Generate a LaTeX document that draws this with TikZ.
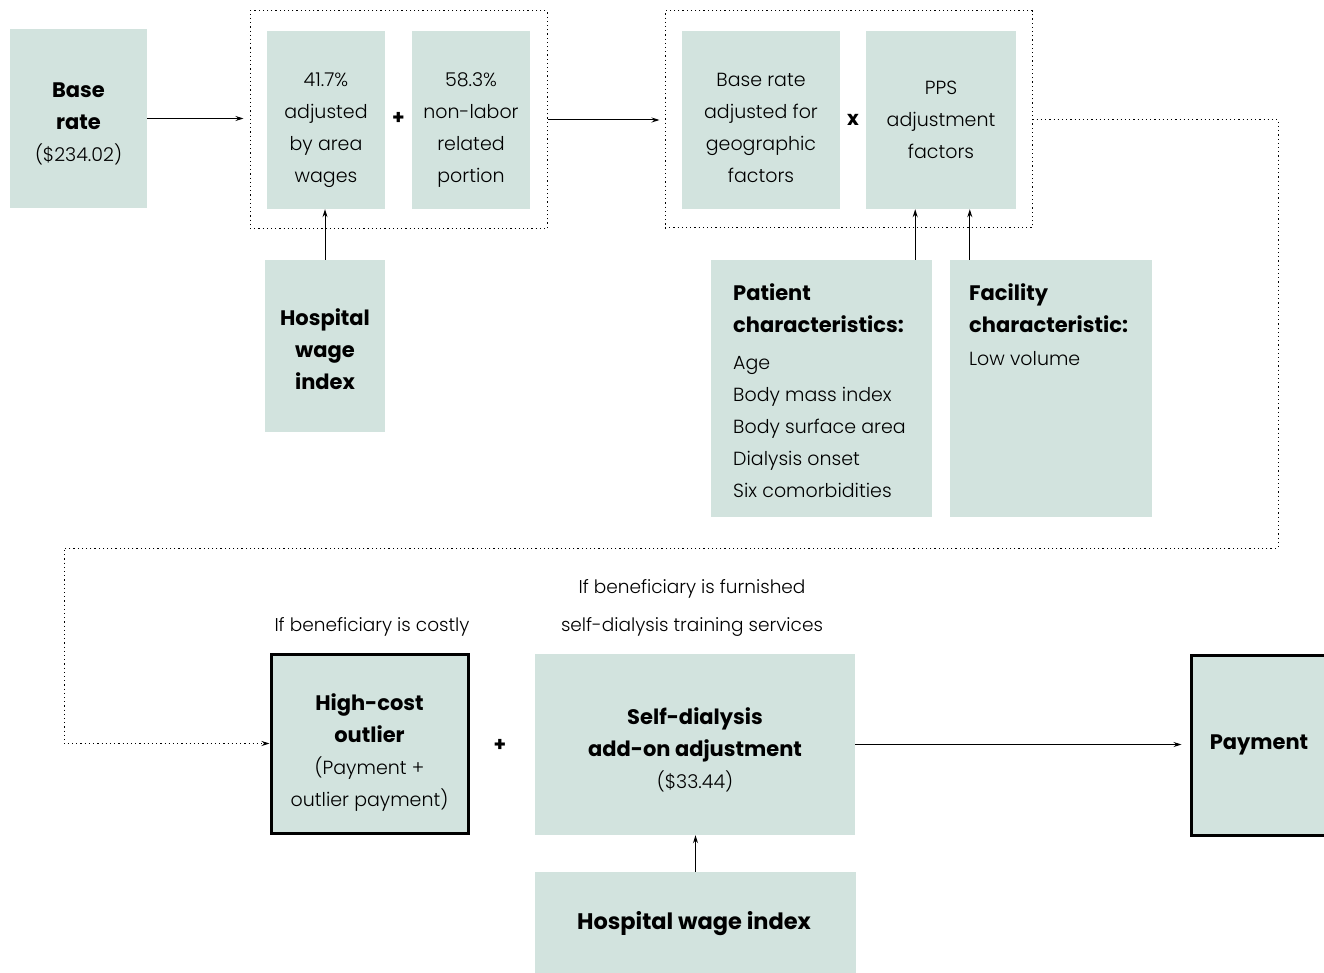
\documentclass[tikz,border=0pt]{standalone}
\usepackage{fontspec}
\setmainfont{Poppins}[UprightFont={* Light},BoldFont={* Bold}]
\usetikzlibrary{arrows.meta}
\definecolor{boxfill}{RGB}{210,227,222}
\newcommand\hb[1]{{\fontsize{21}{32}\selectfont\bfseries #1}}
\tikzset{
  box/.style={fill=boxfill, draw=none, inner sep=0pt, align=center, font=\fontsize{19}{32}\selectfont},
  thickbox/.style={box, draw=black, line width=3pt},
  dotline/.style={dash pattern=on 1.2pt off 3pt, line width=1pt},
  dotbox/.style={draw=black, dotline, inner sep=0pt},
  arr/.style={-{Stealth[length=8pt,width=5pt]}, line width=1pt},
  txt/.style={inner sep=0pt, align=center, font=\fontsize{19}{32}\selectfont},
  lbl/.style={inner sep=0pt, align=center, font=\fontsize{18.5}{38}\selectfont},
  op/.style={inner sep=0pt, font=\bfseries\fontsize{20}{24}\selectfont},
}
\begin{document}
\begin{tikzpicture}[x=1pt,y=-1pt]
\useasboundingbox (0,0) rectangle (1324,973);
% top row
\node[box, minimum width=137pt, minimum height=179pt] (base) at (78.5,118.5) {};
\node[txt] (baset) at ([yshift=-5pt]base.center) {\hb{Base}\\\hb{rate}\\(\$234.02)};
\node[dotbox, minimum width=297pt, minimum height=218pt] (grp1) at (398.5,120) {};
\node[box, minimum width=118pt, minimum height=178pt] (lab) at (326,120) {};
\node[txt] (labt) at ([yshift=-10pt]lab.center) {41.7\%\\adjusted\\by area\\wages};
\node[box, minimum width=118pt, minimum height=178pt] (nonlab) at (471,120) {};
\node[txt] (nonlabt) at ([yshift=-10pt]nonlab.center) {58.3\%\\non-labor\\related\\portion};
\node[op] (plus1) at (398.5,118) {+};
\node[dotbox, minimum width=367pt, minimum height=217pt] (grp2) at (848.5,119.5) {};
\node[box, minimum width=158pt, minimum height=178pt] (geo) at (761,120) {};
\node[txt] (geot) at ([yshift=-8pt]geo.center) {Base rate\\adjusted for\\geographic\\factors};
\node[box, minimum width=150pt, minimum height=178pt] (pps) at (941,120) {PPS\\adjustment\\factors};
\node[op] (times) at (853,120) {x};
% inputs
\node[box, minimum width=120pt, minimum height=172pt] (hwi) at (325,346) {};
\node[txt] (hwit) at ([yshift=-3pt]hwi.center) {\hb{Hospital}\\\hb{wage}\\\hb{index}};
\node[box, minimum width=221pt, minimum height=257pt] (pat) at (821.5,388.5) {};
\node[txt, anchor=north west, align=left] (pattxt) at (733,283) {\hb{Patient}\\\hb{characteristics:}\\[5pt]Age\\Body mass index\\Body surface area\\Dialysis onset\\Six comorbidities};
\node[box, minimum width=202pt, minimum height=257pt] (fac) at (1051,388.5) {};
\node[txt, anchor=north west, align=left] (factxt) at (969,283) {\hb{Facility}\\\hb{characteristic:}\\[1pt]Low volume};
% bottom row
\node[lbl] (lcost) at (372,627) {If beneficiary is costly};
\node[lbl] (lself) at (692,608) {If beneficiary is furnished\\self-dialysis training services};
\node[thickbox, minimum width=197pt, minimum height=179pt] (hc) at (369.5,743.5) {};
\node[txt] (hct) at ([yshift=-9pt]hc.center) {\hb{High-cost}\\\hb{outlier}\\(Payment +\\outlier payment)};
\node[op] (plus2) at (500,745) {+};
\node[box, minimum width=320pt, minimum height=181pt] (sd) at (695,744.5) {};
\node[txt] (sdt) at ([yshift=-5pt]sd.center) {\hb{Self-dialysis}\\\hb{add-on adjustment}\\(\$33.44)};
\node[thickbox, minimum width=150pt, minimum height=180pt] (pay) at (1266,745) {};
\node[txt] (payt) at (1259,745) {\hb{Payment}};
\node[box, minimum width=321pt, minimum height=110pt] (hwi2) at (695.5,927) {};
\node[txt] (hwi2t) at (694,924) {{\fontsize{22.5}{32}\selectfont\bfseries Hospital wage index}};
% connectors
\draw[arr, shorten >=6pt] (base.east) -- (base.east -| grp1.west);
\draw[arr, shorten >=5pt] (grp1.east) -- (grp1.east -| grp2.west);
\draw[arr] (hwi.north) -- (hwi.north |- lab.south);
\draw[arr] ([xshift=-17pt]pat.north east) -- ([xshift=-17pt]pat.north east |- pps.south);
\draw[arr] ([xshift=20pt]fac.north west) -- ([xshift=20pt]fac.north west |- pps.south);
\coordinate (c1) at (1278,119.5);
\coordinate (c2) at (1278,548);
\coordinate (c3) at (64,548);
\coordinate (c4) at (64,743.5);
\draw[arr, dotline] (grp2.east) -- (c1) -- (c2) -- (c3) -- (c4) -- (hc.west);
\draw[arr, shorten >=8pt] (sd.east) -- (sd.east -| pay.west);
\draw[arr] (hwi2.north) -- (hwi2.north |- sd.south);
\end{tikzpicture}
\end{document}
